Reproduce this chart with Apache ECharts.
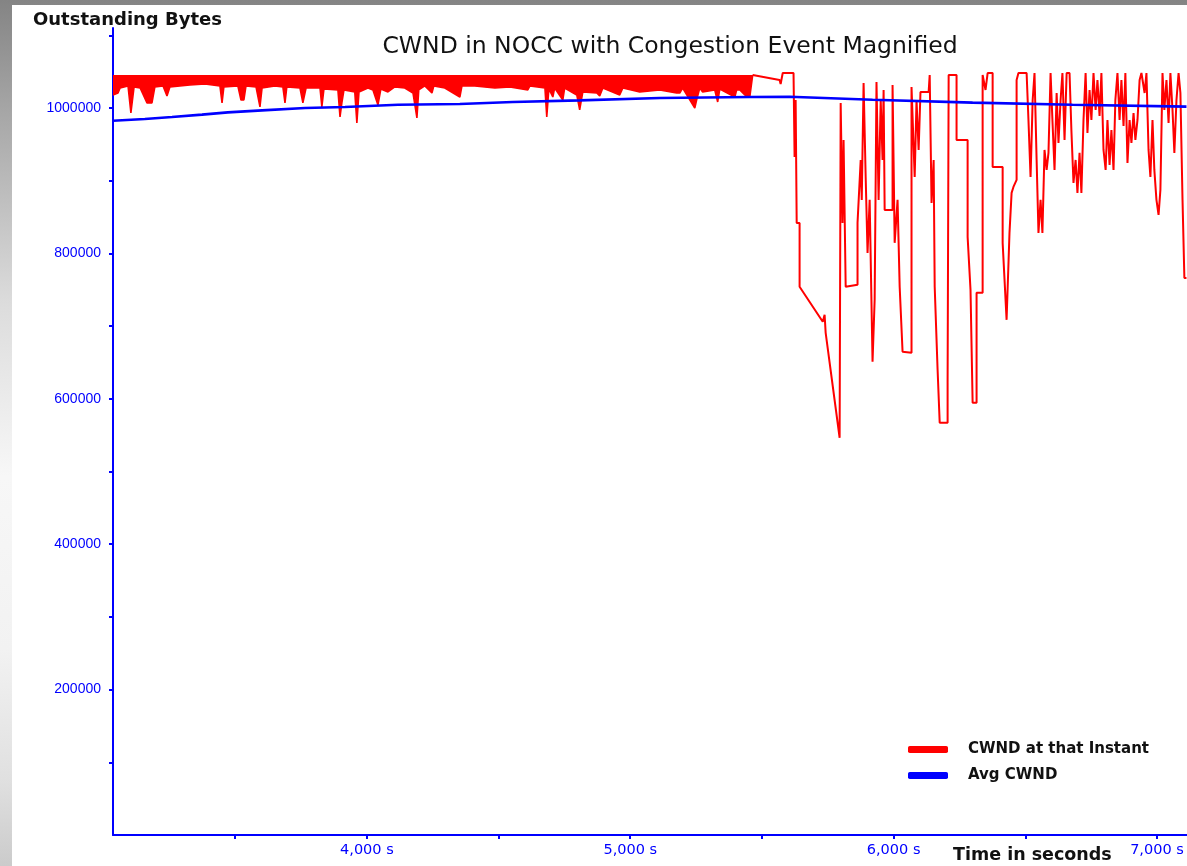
<!DOCTYPE html>
<html>
<head>
<meta charset="utf-8">
<title>CWND in NOCC with Congestion Event Magnified</title>
<script src="https://cdn.jsdelivr.net/npm/echarts@6/dist/echarts.min.js"></script>
<style>
  html, body { margin: 0; padding: 0; background: #ffffff; }
  #chart { width: 1187px; height: 866px; }
</style>
</head>
<body>
<div id="chart"></div>
<script>
// ---- axis ticks and labels ----
const timeTicks = [3500, 4000, 4500, 5000, 5500, 6000, 6500, 7000];
const timeLabels = [4000, 5000, 6000, 7000];
const byteTicks = [100000, 200000, 300000, 400000, 500000, 600000, 700000, 800000, 900000, 1000000, 1100000];
const byteLabels = [200000, 400000, 600000, 800000, 1000000];

// ---- CWND before the congestion event: window pinned at its ceiling,
//      with the lower edge of the rapid oscillations and its dips ----
const cwndCeiling = 1045400;
const cwndSteady = [
  [3036, 1017900], [3055, 1020600], [3063, 1027500], [3093, 1030300], [3104, 993100],
  [3116, 1028900], [3139, 1027500], [3165, 1006900], [3184, 1006900], [3195, 1028900],
  [3226, 1030300], [3241, 1016500], [3252, 1028900], [3328, 1031600], [3385, 1033000],
  [3442, 1030300], [3450, 1006900], [3457, 1028900], [3510, 1030300], [3522, 1011000],
  [3533, 1011000], [3541, 1030300], [3579, 1028900], [3594, 1001400], [3602, 1027500],
  [3651, 1030300], [3681, 1028900], [3689, 1006900], [3696, 1028900], [3746, 1027500],
  [3757, 1006900], [3769, 1027500], [3822, 1027500], [3829, 1001400], [3837, 1026100],
  [3890, 1024800], [3898, 987700], [3905, 1006900], [3913, 1024800], [3954, 1022000],
  [3962, 979400], [3970, 1022000], [4004, 1027500], [4023, 1024800], [4042, 1004100],
  [4053, 1026100], [4080, 1022000], [4106, 1028900], [4144, 1027500], [4175, 1020600],
  [4190, 986300], [4197, 1024800], [4220, 1030300], [4247, 1020600], [4254, 1030300],
  [4296, 1027500], [4353, 1015100], [4361, 1030300], [4410, 1030300], [4486, 1027500],
  [4543, 1028900], [4611, 1024800], [4619, 1030300], [4676, 1027500], [4683, 987700],
  [4691, 1026100], [4706, 1015100], [4713, 1027500], [4744, 1011000], [4751, 1027500],
  [4797, 1017900], [4808, 997300], [4820, 1022000], [4873, 1020600], [4884, 1016500],
  [4896, 1027500], [4960, 1017900], [4972, 1027500], [5036, 1022000], [5112, 1024800],
  [5176, 1020600], [5188, 1020600], [5199, 1027500], [5245, 1000000], [5252, 1011000],
  [5264, 1027500], [5275, 1022000], [5321, 1024800], [5332, 1008300], [5340, 1026100],
  [5397, 1015100], [5404, 1024800], [5416, 1024800], [5435, 1017900], [5454, 1015100],
  [5461, 1013800], [5465, 1045400]
];

// ---- CWND through the congestion event ----
const cwndEvent = [
  [5465, 1045400], [5567, 1038500], [5571, 1033000], [5579, 1048100], [5620, 1048100],
  [5624, 932700], [5628, 1011000], [5632, 841900], [5643, 841900], [5643, 754000],
  [5731, 705900], [5738, 715500], [5742, 690700], [5795, 546400], [5799, 1006900],
  [5806, 841900], [5810, 956000], [5818, 754000], [5863, 756700], [5863, 841900],
  [5875, 928500], [5879, 873600], [5886, 1034400], [5894, 903800], [5901, 800700],
  [5909, 873600], [5920, 650900], [5928, 736100], [5935, 1035800], [5943, 873600],
  [5951, 1011000], [5958, 928500], [5962, 1024800], [5966, 859800], [5996, 859800],
  [5996, 1031600], [6004, 814500], [6015, 873600], [6023, 754000], [6034, 664600],
  [6068, 663200], [6068, 1028900], [6080, 905200], [6087, 1011000], [6095, 942300],
  [6102, 1022000], [6133, 1022000], [6137, 1045400], [6144, 869400], [6152, 928500],
  [6156, 754000], [6167, 639900], [6175, 567000], [6205, 567000], [6205, 622000],
  [6209, 1045400], [6239, 1045400], [6239, 956000], [6281, 956000], [6281, 822700],
  [6292, 749800], [6300, 594500], [6315, 594500], [6315, 745700], [6338, 745700],
  [6338, 1045400], [6349, 1024800], [6357, 1048100], [6376, 1048100], [6376, 918900],
  [6414, 918900], [6414, 814500], [6429, 708600], [6440, 828200], [6448, 883200],
  [6455, 891400], [6467, 901100], [6467, 1038500], [6474, 1048100], [6505, 1048100],
  [6512, 983500], [6520, 905200], [6528, 1011000], [6535, 1048100], [6543, 928500],
  [6550, 828200], [6558, 873600], [6565, 828200], [6573, 942300], [6581, 914800],
  [6588, 938200], [6596, 1048100], [6603, 983500], [6611, 914800], [6619, 1020600],
  [6626, 951900], [6634, 1011000], [6641, 1048100], [6649, 956000], [6657, 1048100],
  [6668, 1048100], [6675, 969800], [6683, 896900], [6691, 928500], [6698, 883200],
  [6706, 938200], [6713, 883200], [6721, 983500], [6729, 1048100], [6736, 965700],
  [6744, 1024800], [6751, 983500], [6759, 1048100], [6767, 997300], [6774, 1038500],
  [6782, 989000], [6789, 1048100], [6797, 942300], [6805, 914800], [6812, 983500],
  [6820, 921700], [6827, 969800], [6835, 914800], [6842, 1011000], [6850, 1048100],
  [6858, 983500], [6865, 1038500], [6873, 975300], [6880, 1048100], [6888, 924400],
  [6896, 983500], [6903, 951900], [6911, 993100], [6918, 956000], [6926, 983500],
  [6934, 1038500], [6941, 1048100], [6953, 1020600], [6960, 1048100], [6968, 942300],
  [6975, 905200], [6983, 983500], [6990, 914800], [6998, 873600], [7006, 852900],
  [7013, 887300], [7021, 1048100], [7028, 997300], [7036, 1038500], [7044, 979400],
  [7051, 1048100], [7059, 997300], [7066, 938200], [7074, 1011000], [7082, 1048100],
  [7089, 1020600], [7097, 873600], [7104, 766300], [7112, 766300]
];

// ---- running average of CWND ----
const avgCwnd = [
  [3036, 982500], [3157, 984900], [3260, 987600], [3374, 990800], [3472, 993900],
  [3602, 996700], [3765, 1000000], [3917, 1001400], [4118, 1004500], [4353, 1005500],
  [4554, 1008200], [4808, 1010400], [5112, 1013700], [5454, 1015100], [5605, 1015500],
  [5920, 1011400], [6300, 1007300], [6679, 1004500], [7112, 1001800]
];

const RED = '#ff0000';
const BLUE = '#0000ff';
const W = 1187, H = 866;

const chart = echarts.init(document.getElementById('chart'), null, { renderer: 'canvas', width: W, height: H });

const axisLine = { show: true, lineStyle: { color: BLUE, width: 2 } };

chart.setOption({
  animation: false,
  backgroundColor: 'transparent',
  graphic: [
    // grey frame behind the white panel
    {
      type: 'rect', z: -10, silent: true,
      shape: { x: 0, y: 0, width: W, height: H },
      style: {
        fill: new echarts.graphic.LinearGradient(0, 0, 0, 1, [
          { offset: 0, color: '#848484' },
          { offset: 0.12, color: '#a4a4a4' },
          { offset: 0.35, color: '#dcdcdc' },
          { offset: 0.55, color: '#f7f7f7' },
          { offset: 0.75, color: '#f2f2f2' },
          { offset: 0.9, color: '#e0e0e0' },
          { offset: 1, color: '#cbcbcb' }
        ])
      }
    },
    {
      type: 'rect', z: -9, silent: true,
      shape: { x: 12, y: 5, width: W - 12, height: H - 5 },
      style: { fill: '#ffffff' }
    },
    {
      type: 'text', left: 33, top: 11, z: 10,
      style: { text: 'Outstanding Bytes', fill: '#111', font: 'bold 18px "DejaVu Sans"' }
    },
    {
      type: 'text', z: 10,
      x: 670, y: 46.5,
      style: {
        text: 'CWND in NOCC with Congestion Event Magnified',
        fill: '#111', font: '23.5px "DejaVu Sans"',
        textAlign: 'center', textVerticalAlign: 'middle'
      }
    },
    {
      type: 'text', z: 10,
      x: 953, y: 855.5,
      style: {
        text: 'Time in seconds', fill: '#111', font: 'bold 17.5px "DejaVu Sans"',
        textAlign: 'left', textVerticalAlign: 'middle'
      }
    }
  ],
  legend: {
    orient: 'vertical',
    left: 908,
    top: 742,
    padding: 0,
    itemWidth: 40,
    itemHeight: 7,
    itemGap: 11,
    icon: 'roundRect',
    data: ['CWND at that Instant', 'Avg CWND'],
    textStyle: { color: '#111', fontFamily: 'DejaVu Sans', fontWeight: 'bold', fontSize: 15, padding: [0, 0, 0, 15] }
  },
  grid: { left: 113, right: 0, top: 28, bottom: 31, containLabel: false, outerBoundsMode: 'none' },
  xAxis: {
    type: 'value',
    min: 3036,
    max: 7114,
    axisLine: axisLine,
    splitLine: { show: false },
    axisTick: { show: true, length: 4, inside: false, lineStyle: { color: BLUE, width: 2 }, customValues: timeTicks },
    axisLabel: {
      customValues: timeLabels,
      margin: 8,
      color: BLUE,
      fontFamily: 'DejaVu Sans',
      fontSize: 14.5,
      formatter: v => v.toLocaleString('en-US') + ' s'
    }
  },
  yAxis: {
    type: 'value',
    min: 0,
    max: 1110000,
    axisLine: axisLine,
    splitLine: { show: false },
    axisTick: { show: true, length: 4, inside: false, lineStyle: { color: BLUE, width: 2 }, customValues: byteTicks },
    axisLabel: {
      customValues: byteLabels,
      margin: 12,
      color: BLUE,
      fontFamily: 'Liberation Sans',
      fontSize: 14,
      formatter: v => String(v)
    }
  },
  series: [
    {
      name: 'CWND at that Instant',
      type: 'line',
      data: cwndSteady,
      showSymbol: false,
      symbol: 'none',
      lineStyle: { color: RED, width: 1.6 },
      itemStyle: { color: RED },
      areaStyle: { color: RED, opacity: 1, origin: cwndCeiling },
      z: 2
    },
    {
      name: 'CWND at that Instant',
      type: 'line',
      data: cwndEvent,
      showSymbol: false,
      symbol: 'none',
      lineStyle: { color: RED, width: 2 },
      itemStyle: { color: RED },
      z: 2
    },
    {
      name: 'Avg CWND',
      type: 'line',
      data: avgCwnd,
      showSymbol: false,
      symbol: 'none',
      lineStyle: { color: BLUE, width: 2.6 },
      itemStyle: { color: BLUE },
      z: 3
    }
  ]
});
</script>
</body>
</html>
